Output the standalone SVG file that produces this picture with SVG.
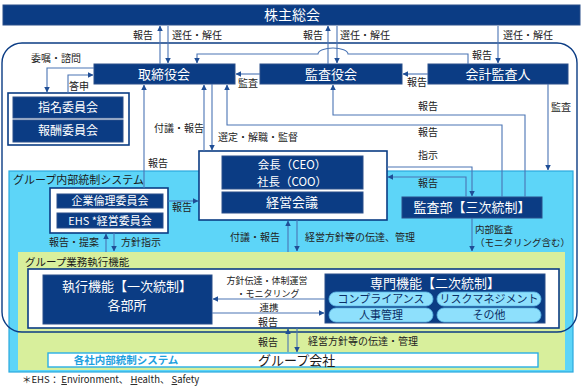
<svg xmlns="http://www.w3.org/2000/svg" width="584" height="386" viewBox="0 0 584 386">
<defs>
<marker id="ah" viewBox="0 0 6 6" refX="5.5" refY="3" markerWidth="5" markerHeight="5" orient="auto-start-reverse">
<path d="M0,0 L6,3 L0,6 z" fill="#1F4E96"/>
</marker>
<style>
text{font-family:"Noto Sans CJK JP","Noto Sans",sans-serif;}
.nv{fill:#0B3C84;stroke:#2A4F8A;stroke-width:1;}
.wt{fill:#fff;font-size:13px;text-anchor:middle;}
.lb{fill:#222;font-size:10px;}
.lc{fill:#222;font-size:10px;text-anchor:middle;}
.cn{fill:none;stroke:#4A74B4;stroke-width:1.1;marker-end:url(#ah);}
.frame{fill:#fff;stroke:#0B3C84;stroke-width:1.6;}
.pill{fill:#8EE0FC;stroke:#5CB8E6;stroke-width:0.8;}
.pt{fill:#0B2F66;font-size:11px;text-anchor:middle;}
</style>
</defs>
<rect width="584" height="386" fill="#fff"/>

<g id="group-internal-control">
<rect x="9" y="171" width="564" height="201" fill="#5DD5F8" stroke="#2BA9DE" stroke-width="1.2"/>
<text x="13" y="184" style="fill:#1a1a1a;font-size:11px;">グループ内部統制システム</text>
</g>
<g id="group-business-execution">
<rect x="18" y="252" width="547" height="118" fill="#D8EF9C"/>
<text x="25" y="266" style="fill:#1a1a1a;font-size:10.5px;">グループ業務執行機能</text>
</g>

<g id="governance-frame">
<rect x="2" y="43" width="575" height="289" rx="20" ry="20" fill="none" stroke="#0B3C84" stroke-width="1.4"/>
</g>

<g id="shareholders">
<rect class="nv" x="3" y="5" width="577" height="20"/>
<text class="wt" x="292" y="20" style="font-size:14px;">株主総会</text>
</g>
<g id="board">
<rect class="nv" x="94" y="64" width="141" height="20"/>
<text class="wt" x="164" y="79">取締役会</text>
</g>
<g id="audit-board">
<rect class="nv" x="260" y="64" width="142" height="20"/>
<text class="wt" x="331" y="79">監査役会</text>
</g>
<g id="accounting-auditor">
<rect class="nv" x="428" y="64" width="140" height="20"/>
<text class="wt" x="498" y="79">会計監査人</text>
</g>

<g id="committees">
<rect class="frame" x="8" y="93" width="121" height="52"/>
<rect class="nv" x="13" y="97" width="110" height="21"/>
<text class="wt" x="68" y="112" style="font-size:12px;">指名委員会</text>
<rect class="nv" x="13" y="120" width="110" height="22"/>
<text class="wt" x="68" y="135" style="font-size:12px;">報酬委員会</text>
</g>

<g id="ceo">
<rect class="frame" x="199" y="151" width="188" height="69"/>
<rect class="nv" x="222" y="156" width="141" height="33"/>
<text class="wt" x="292" y="168.5" style="font-size:11.5px;">会長（CEO）</text>
<text class="wt" x="292" y="185.5" style="font-size:11.5px;">社長（COO）</text>
<rect class="nv" x="222" y="192" width="141" height="21"/>
<text class="wt" x="292" y="207">経営会議</text>
</g>

<g id="ethics-committees">
<rect class="frame" x="50" y="188" width="118" height="45"/>
<rect class="nv" x="57" y="194" width="106" height="14"/>
<text class="wt" x="110" y="205" style="font-size:11px;">企業倫理委員会</text>
<rect class="nv" x="57" y="213" width="106" height="15"/>
<text class="wt" x="110" y="225" style="font-size:11px;">EHS *経営委員会</text>
</g>

<g id="internal-audit">
<rect class="nv" x="402" y="197" width="140" height="21"/>
<text class="wt" x="472" y="212">監査部【三次統制】</text>
</g>

<g id="execution-frame">
<rect class="frame" x="28" y="269" width="531" height="59"/>
</g>
<g id="first-line">
<rect class="nv" x="43" y="275" width="169" height="49"/>
<text class="wt" x="127" y="291">執行機能【一次統制】</text>
<text class="wt" x="127" y="310">各部所</text>
</g>
<g id="second-line">
<rect class="nv" x="325" y="274" width="220" height="49"/>
<text class="wt" x="435" y="288">専門機能【二次統制】</text>
<rect class="pill" x="329" y="292" width="104" height="14" rx="7"/>
<text class="pt" x="381" y="303">コンプライアンス</text>
<rect class="pill" x="437" y="292" width="104" height="14" rx="7"/>
<text class="pt" x="489" y="303">リスクマネジメント</text>
<rect class="pill" x="329" y="308" width="104" height="14" rx="7"/>
<text class="pt" x="381" y="319">人事管理</text>
<rect class="pill" x="437" y="308" width="104" height="14" rx="7"/>
<text class="pt" x="489" y="319">その他</text>
</g>

<g id="group-companies">
<rect x="48" y="353" width="490" height="14" fill="#fff" stroke="#29AEE6" stroke-width="1.4"/>
<text x="126" y="364" style="fill:#1C9FE0;font-size:10.5px;font-weight:bold;text-anchor:middle;">各社内部統制システム</text>
<text x="258" y="365" style="fill:#1a1a1a;font-size:13px;">グループ会社</text>
</g>

<g id="connectors">
<path class="cn" d="M160 64 V26"/>
<path class="cn" d="M168 26 V63"/>
<path class="cn" d="M328 64 V26"/>
<path class="cn" d="M337 26 V63"/>
<path class="cn" d="M498 26 V63"/>
<path class="cn" d="M468 64 V54 H348 A15 6 0 0 0 318 54 H197 V63"/>
<path class="cn" d="M260 74 H236"/>
<path class="cn" d="M428 74 H403"/>
<path class="cn" d="M94 68 H47 V92"/>
<path class="cn" d="M68 93 V75 H93"/>
<path class="cn" d="M144 188 V85"/>
<path class="cn" d="M204 151 V85"/>
<path class="cn" d="M212 84 V150"/>
<path class="cn" d="M502 197 V125 H227 V85"/>
<path class="cn" d="M525 197 V115 H333 V85"/>
<path class="cn" d="M548 84 V170"/>
<path class="cn" d="M387 167 H472 V196"/>
<path class="cn" d="M466 197 V177 H388"/>
<path class="cn" d="M168 201 H198"/>
<path class="cn" d="M106 252 V234"/>
<path class="cn" d="M114 233 V251"/>
<path class="cn" d="M288 252 V221"/>
<path class="cn" d="M297 220 V251"/>
<path class="cn" d="M472 218 V251"/>
<path class="cn" d="M325 299 H213"/>
<path class="cn" d="M212 313 H324"/>
<path class="cn" d="M288 352 V329"/>
<path class="cn" d="M297 328 V352"/>
</g>

<g id="labels">
<text class="lb" x="133" y="39">報告</text>
<text class="lb" x="172" y="39">選任・解任</text>
<text class="lb" x="303" y="39">報告</text>
<text class="lb" x="340" y="39">選任・解任</text>
<text class="lb" x="503" y="39">選任・解任</text>
<text class="lb" x="472" y="59">報告</text>
<text class="lb" x="31" y="62">委嘱・諮問</text>
<text class="lb" x="69" y="90">答申</text>
<text class="lb" x="238" y="87">監査</text>
<text class="lb" x="407" y="86">報告</text>
<text class="lb" x="551" y="111">監査</text>
<text class="lb" x="418" y="110">報告</text>
<text class="lb" x="418" y="136">報告</text>
<text class="lb" x="418" y="159">指示</text>
<text class="lb" x="418" y="187">報告</text>
<text class="lb" x="154" y="132">付議・報告</text>
<text class="lb" x="218" y="141">選定・解職・監督</text>
<text class="lb" x="148" y="167">報告</text>
<text class="lb" x="172" y="211">報告</text>
<text class="lb" x="49" y="246">報告・提案</text>
<text class="lb" x="121" y="246">方針指示</text>
<text class="lb" x="230" y="241">付議・報告</text>
<text class="lb" x="305" y="241">経営方針等の伝達、管理</text>
<text class="lb" x="475" y="233" style="font-size:9.5px;">内部監査</text>
<text class="lb" x="475" y="246" style="font-size:9.5px;">（モニタリング含む）</text>
<text class="lc" x="267" y="284" style="font-size:9px;">方針伝達・体制運営</text>
<text class="lc" x="268" y="297" style="font-size:9px;">・モニタリング</text>
<text class="lc" x="269" y="311" style="font-size:9.5px;">連携</text>
<text class="lc" x="268" y="326">報告</text>
<text class="lb" x="258" y="346">報告</text>
<text class="lb" x="308" y="345">経営方針等の伝達・管理</text>
<text x="22" y="383" style="fill:#222;font-size:9.5px;">＊EHS： <tspan text-decoration="underline">E</tspan>nvironment、 <tspan text-decoration="underline">H</tspan>ealth、 <tspan text-decoration="underline">S</tspan>afety</text>
</g>
</svg>
